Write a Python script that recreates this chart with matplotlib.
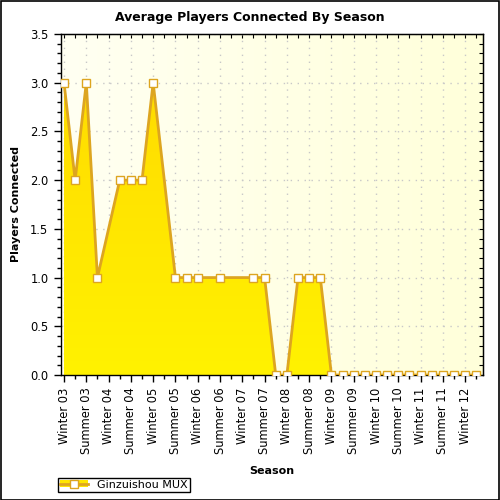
import numpy as np
import matplotlib
matplotlib.use('Agg')
import matplotlib.pyplot as plt
from matplotlib.patches import Rectangle, Patch
from matplotlib.lines import Line2D
from matplotlib.colors import LinearSegmentedColormap

# x axis: one step per half season, a label every two steps
season_labels = ['Winter 03', 'Summer 03', 'Winter 04', 'Summer 04', 'Winter 05',
                 'Summer 05', 'Winter 06', 'Summer 06', 'Winter 07', 'Summer 07',
                 'Winter 08', 'Summer 08', 'Winter 09', 'Summer 09', 'Winter 10',
                 'Summer 10', 'Winter 11', 'Summer 11', 'Winter 12']
point_step = [0, 1, 2, 3, 5, 6, 7, 8, 10, 11, 12, 14, 17, 18, 19, 20, 21, 22, 23,
              24, 25, 26, 27, 28, 29, 30, 31, 32, 33, 34, 35, 36, 37]
players = [3, 2, 3, 1, 2, 2, 2, 3, 1, 1, 1, 1, 1, 1, 0, 0, 1, 1, 1,
           0, 0, 0, 0, 0, 0, 0, 0, 0, 0, 0, 0, 0, 0]
series_name = 'Ginzuishou MUX'

plt.rcParams['font.family'] = ['DejaVu Sans']

line_col = '#DDA520'
fill_col = '#FFE600'

fig = plt.figure(figsize=(5, 5), dpi=100, facecolor='white')
ax = fig.add_axes([0.122, 0.25, 0.844, 0.682])

xmin, xmax = -0.27, 37.6
ax.set_xlim(xmin, xmax)
ax.set_ylim(0, 3.5)

# pale yellow background gradient
bg = LinearSegmentedColormap.from_list('bg', ['#FFFFF2', '#FFFFDA'])
grad = np.linspace(0, 1, 256).reshape(1, -1)
ax.imshow(grad, cmap=bg, extent=[xmin, xmax, 0, 3.5], aspect='auto', zorder=0)

ax.grid(True, which='major', color='#C8C8C8', linestyle=(0, (1, 4)), linewidth=1)
ax.set_axisbelow(True)

# area with gradient fill clipped to the series shape
poly = ax.fill_between(point_step, players, 0, color=fill_col, linewidth=0, zorder=2)
fg = LinearSegmentedColormap.from_list('fg', ['#FFF200', '#FFD800'])
vgrad = np.linspace(0, 1, 256).reshape(-1, 1)
im = ax.imshow(vgrad, cmap=fg, extent=[xmin, xmax, 0, 3.5], aspect='auto',
               origin='lower', zorder=2.1)
im.set_clip_path(poly.get_paths()[0], transform=ax.transData)

ax.plot(point_step, players, color=line_col, linewidth=2, zorder=3,
        marker='s', markersize=6, markerfacecolor='white',
        markeredgecolor=line_col, markeredgewidth=1)

major = np.arange(0, 37, 2)
ax.set_xticks(major)
ax.set_xticks(np.arange(1, 38, 2), minor=True)
ax.set_xticklabels(season_labels, rotation=90, fontsize=8.3)
ax.set_yticks(np.arange(0, 3.51, 0.5))
ax.set_yticks(np.arange(0, 3.51, 0.1), minor=True)
ax.set_yticklabels(['%.1f' % v for v in np.arange(0, 3.51, 0.5)], fontsize=8.3)
ax.tick_params(which='major', direction='out', length=5, width=1, pad=4)
ax.tick_params(which='minor', direction='out', length=3, width=1)

top = ax.secondary_xaxis('top')
top.set_xticks(np.arange(0, 38, 1))
top.tick_params(direction='in', length=3, labeltop=False)
right = ax.secondary_yaxis('right')
right.set_yticks(np.arange(0, 3.51, 0.1))
right.tick_params(direction='in', length=3, labelright=False)

for s in ax.spines.values():
    s.set_color('black')
    s.set_linewidth(1)

ax.set_xlabel('Season', fontsize=8, fontweight='bold')
ax.xaxis.set_label_coords(0.5, -0.267)
ax.set_ylabel('Players Connected', fontsize=8, fontweight='bold')
ax.yaxis.set_label_coords(-0.094, 0.5)

fig.text(0.5, 1 - 17 / 500, 'Average Players Connected By Season', ha='center',
         va='center', fontsize=9, fontweight='bold')

handle = (Patch(facecolor=fill_col, edgecolor='none'),
          Line2D([], [], color=line_col, linewidth=2, marker='s', markersize=6,
                 markerfacecolor='white', markeredgecolor=line_col))
leg = fig.legend([handle], [series_name], loc='lower left',
                 bbox_to_anchor=(58 / 500, 1 - 492 / 500), fontsize=8,
                 fancybox=False, framealpha=1, edgecolor='black',
                 borderpad=0.2, handlelength=2.5, handleheight=0.6,
                 borderaxespad=0)
leg.get_frame().set_linewidth(1)

fig.patches.append(Rectangle((0.001, 0.001), 0.997, 0.997, transform=fig.transFigure,
                             fill=False, edgecolor='black', linewidth=1.2))

fig.savefig('out.png', dpi=100)
